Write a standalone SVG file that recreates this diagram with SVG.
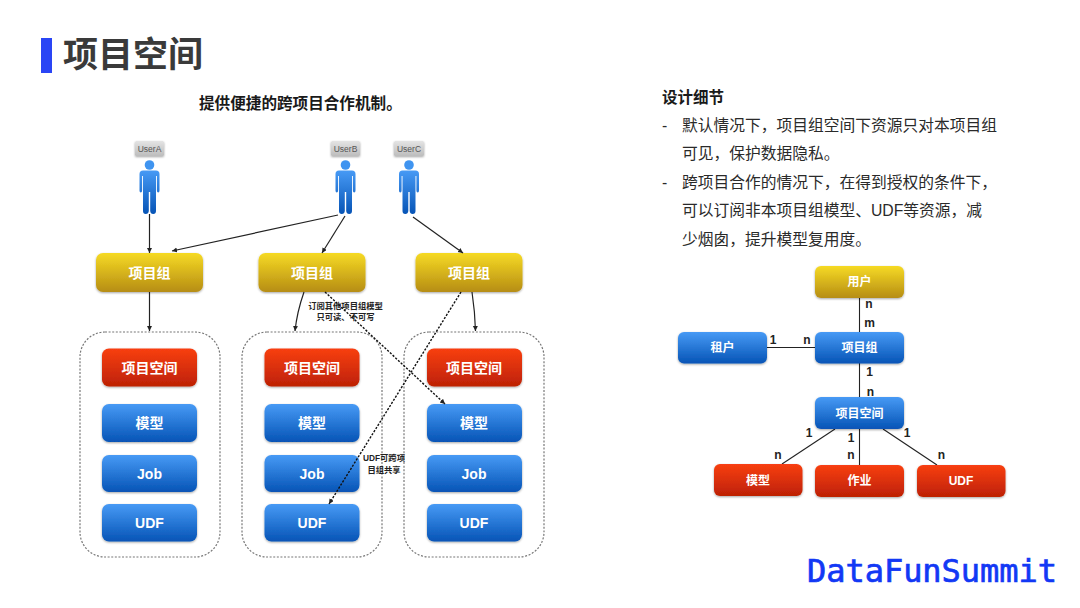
<svg xmlns="http://www.w3.org/2000/svg" xmlns:xlink="http://www.w3.org/1999/xlink" width="1080" height="608" viewBox="0 0 1080 608">
<style>
text{font-family:"Liberation Sans","Noto Sans CJK SC",sans-serif}
.n{stroke:none;filter:url(#sh)}
.y{fill:url(#gy)}.r{fill:url(#gr)}.b{fill:url(#gb)}
.t{fill:#fff;font-weight:700;font-size:14px;text-anchor:middle}
.t2{fill:#fff;font-weight:700;font-size:12px;text-anchor:middle}
.c{fill:none;stroke:#777;stroke-width:1.2;stroke-dasharray:2 1.6}
.a{fill:none;stroke:#222;stroke-width:1.2;marker-end:url(#ah)}
.d{fill:none;stroke:#111;stroke-width:1.4;stroke-dasharray:2.2 1.5;marker-end:url(#ah)}
.l{fill:none;stroke:#222;stroke-width:1.1}
.m{fill:#222;font-weight:700;font-size:12px;text-anchor:middle}
.s{fill:#222;font-weight:700;font-size:8.3px;text-anchor:middle}
.u{fill:#555;font-size:8.5px;text-anchor:middle}
.p{fill:#2a2a2a;font-size:15.75px}
</style>
<defs>
<linearGradient id="gy" x1="0" y1="0" x2="0" y2="1"><stop offset="0" stop-color="#f6da24"/><stop offset="1" stop-color="#b68d14"/></linearGradient>
<linearGradient id="gr" x1="0" y1="0" x2="0" y2="1"><stop offset="0" stop-color="#f83f12"/><stop offset="1" stop-color="#bd2105"/></linearGradient>
<linearGradient id="gb" x1="0" y1="0" x2="0" y2="1"><stop offset="0" stop-color="#479af5"/><stop offset="1" stop-color="#0654b6"/></linearGradient>
<linearGradient id="gu" x1="0" y1="0" x2="0" y2="1"><stop offset="0" stop-color="#e4e4e4"/><stop offset="1" stop-color="#bdbdbd"/></linearGradient>
<filter id="sh" x="-10%" y="-15%" width="120%" height="135%"><feDropShadow dx="0" dy="1" stdDeviation="0.9" flood-color="#000" flood-opacity="0.35"/></filter>
<marker id="ah" markerUnits="userSpaceOnUse" markerWidth="6" markerHeight="6" refX="5" refY="2.5" orient="auto"><path d="M0,0L5,2.5L0,5z" fill="#222"/></marker>
<g id="person">
<circle cx="0" cy="5" r="4.8" fill="#3f94f0"/>
<path d="M-6.5,10.5H6.5Q10,10.500 10,14V30.500Q10,32.500 8.700,32.500Q7.400,32.500 7.400,30.500V16H6.500V51Q6.500,54 3.700,54Q1,54 .7,51V32H-.7V51Q-1,54 -3.700,54Q-6.500,54 -6.500,51V16H-7.400V30.500Q-7.400,32.500 -8.700,32.500Q-10,32.500 -10,30.500V14Q-10,10.500 -6.500,10.500Z" fill="url(#gb)"/>
</g>
</defs>
<rect width="1080" height="608" fill="#fff"/>
<rect x="41" y="38" width="11" height="35" fill="#2a45f5"/>
<text x="63" y="67" font-size="35" font-weight="700" fill="#3a3a3a">项目空间</text>
<text x="199" y="109" font-size="15.600" font-weight="700" fill="#1a1a1a">提供便捷的跨项目合作机制。</text>
<text x="662" y="103" font-size="15.500" font-weight="700" fill="#1a1a1a">设计细节</text>
<g class="p-text">
<text class="p" x="662" y="131">-</text>
<text class="p" x="682" y="131">默认情况下，项目组空间下资源只对本项目组</text>
<text class="p" x="682" y="159">可见，保护数据隐私。</text>
<text class="p" x="662" y="188">-</text>
<text class="p" x="682" y="188">跨项目合作的情况下，在得到授权的条件下，</text>
<text class="p" x="682" y="216">可以订阅非本项目组模型、UDF等资源，减</text>
<text class="p" x="682" y="245">少烟囱，提升模型复用度。</text>
</g>

<g id="containers">
<rect class="c" x="80" y="332" width="140" height="225" rx="25"/>
<rect class="c" x="242" y="332" width="140" height="225" rx="25"/>
<rect class="c" x="404" y="332" width="140" height="225" rx="25"/>
</g>

<g id="userA"><rect x="135" y="141" width="29" height="15" rx="1.500" fill="url(#gu)" filter="url(#sh)"/><text class="u" x="149.500" y="151.500">UserA</text><use xlink:href="#person" href="#person" x="149.500" y="160"/></g>
<g id="userB"><rect x="331" y="141" width="29" height="15" rx="1.500" fill="url(#gu)" filter="url(#sh)"/><text class="u" x="345.500" y="151.500">UserB</text><use xlink:href="#person" href="#person" x="345.500" y="160"/></g>
<g id="userC"><rect x="394" y="141" width="30" height="15" rx="1.500" fill="url(#gu)" filter="url(#sh)"/><text class="u" x="409" y="151.500">UserC</text><use xlink:href="#person" href="#person" x="409" y="160"/></g>

<g id="group1"><rect class="n y" x="96" y="253" width="107" height="39" rx="7"/><text class="t" x="149.500" y="277.500">项目组</text></g>
<g id="group2"><rect class="n y" x="258.500" y="253" width="107" height="39" rx="7"/><text class="t" x="312" y="277.500">项目组</text></g>
<g id="group3"><rect class="n y" x="415.500" y="253" width="107" height="39" rx="7"/><text class="t" x="469" y="277.500">项目组</text></g>

<g id="space1"><rect class="n r" x="102" y="348.500" width="95" height="38" rx="7"/><text class="t" x="149.500" y="372.500">项目空间</text></g>
<g id="model1"><rect class="n b" x="102" y="404" width="95" height="38" rx="7"/><text class="t" x="149.500" y="428">模型</text></g>
<g id="job1"><rect class="n b" x="102" y="455" width="95" height="37" rx="7"/><text class="t" x="149.500" y="478.500">Job</text></g>
<g id="udf1"><rect class="n b" x="102" y="504" width="95" height="37.500" rx="7"/><text class="t" x="149.500" y="528">UDF</text></g>

<g id="space2"><rect class="n r" x="264.500" y="348.500" width="95" height="38" rx="7"/><text class="t" x="312" y="372.500">项目空间</text></g>
<g id="model2"><rect class="n b" x="264.500" y="404" width="95" height="38" rx="7"/><text class="t" x="312" y="428">模型</text></g>
<g id="job2"><rect class="n b" x="264.500" y="455" width="95" height="37" rx="7"/><text class="t" x="312" y="478.500">Job</text></g>
<g id="udf2"><rect class="n b" x="264.500" y="504" width="95" height="37.500" rx="7"/><text class="t" x="312" y="528">UDF</text></g>

<g id="space3"><rect class="n r" x="427" y="348.500" width="95" height="38" rx="7"/><text class="t" x="474" y="372.500">项目空间</text></g>
<g id="model3"><rect class="n b" x="427" y="404" width="95" height="38" rx="7"/><text class="t" x="474" y="428">模型</text></g>
<g id="job3"><rect class="n b" x="427" y="455" width="95" height="37" rx="7"/><text class="t" x="474" y="478.500">Job</text></g>
<g id="udf3"><rect class="n b" x="427" y="504" width="95" height="37.500" rx="7"/><text class="t" x="474" y="528">UDF</text></g>

<g id="connectors">
<path class="a" d="M149.500,214V253"/>
<path class="a" d="M338,215L172,251"/>
<path class="a" d="M345,216L322,253"/>
<path class="a" d="M413,217L463,253"/>
<path class="a" d="M149.500,292V331"/>
<path class="a" d="M304,292Q297,312 295,331"/>
<path class="a" d="M472,292Q475,312 475.500,331"/>
<path class="d" d="M325,292L445,404"/>
<path class="d" d="M461,292L329,504"/>
<path class="l" d="M859.500,298V332"/>
<path class="l" d="M767,347.500H815"/>
<path class="l" d="M859.500,363V397"/>
<path class="l" d="M859.500,429V465"/>
<path class="l" d="M835,429L782,464"/>
<path class="l" d="M883,429L937,465"/>
</g>
<g id="connector-labels">
<text class="s" x="345.500" y="309">订阅其他项目组模型</text>
<text class="s" x="345.500" y="320">只可读、不可写</text>
<text class="s" x="384" y="461">UDF可跨项</text>
<text class="s" x="384" y="473">目组共享</text>
<text class="m" x="869" y="308">n</text>
<text class="m" x="869.500" y="327">m</text>
<text class="m" x="773" y="344">1</text>
<text class="m" x="807" y="344">n</text>
<text class="m" x="869.500" y="376">1</text>
<text class="m" x="870.500" y="396">n</text>
<text class="m" x="809" y="437">1</text>
<text class="m" x="851" y="442">1</text>
<text class="m" x="907" y="437">1</text>
<text class="m" x="778" y="459">n</text>
<text class="m" x="851" y="459">n</text>
<text class="m" x="941.500" y="459">n</text>
</g>

<g id="er-user"><rect class="n y" x="815" y="266" width="89" height="32" rx="6"/><text class="t2" x="859.500" y="286">用户</text></g>
<g id="er-group"><rect class="n b" x="815" y="332" width="89" height="31.500" rx="6"/><text class="t2" x="859.500" y="352">项目组</text></g>
<g id="er-tenant"><rect class="n b" x="678" y="332" width="89" height="31.500" rx="6"/><text class="t2" x="722.500" y="352">租户</text></g>
<g id="er-space"><rect class="n b" x="815" y="397" width="89" height="32" rx="6"/><text class="t2" x="859.500" y="417.500">项目空间</text></g>
<g id="er-model"><rect class="n r" x="714" y="464" width="88.500" height="32" rx="6"/><text class="t2" x="758" y="484.500">模型</text></g>
<g id="er-job"><rect class="n r" x="815" y="465" width="89" height="32" rx="6"/><text class="t2" x="859.500" y="485">作业</text></g>
<g id="er-udf"><rect class="n r" x="917" y="465" width="88.500" height="32" rx="6"/><text class="t2" x="961" y="485">UDF</text></g>

<text x="807" y="582" font-size="32" fill="#1238f5" stroke="#1238f5" stroke-width="0.7" textLength="250" lengthAdjust="spacing" style="font-family:'DejaVu Sans Mono','Liberation Mono',monospace">DataFunSummit</text>
</svg>
